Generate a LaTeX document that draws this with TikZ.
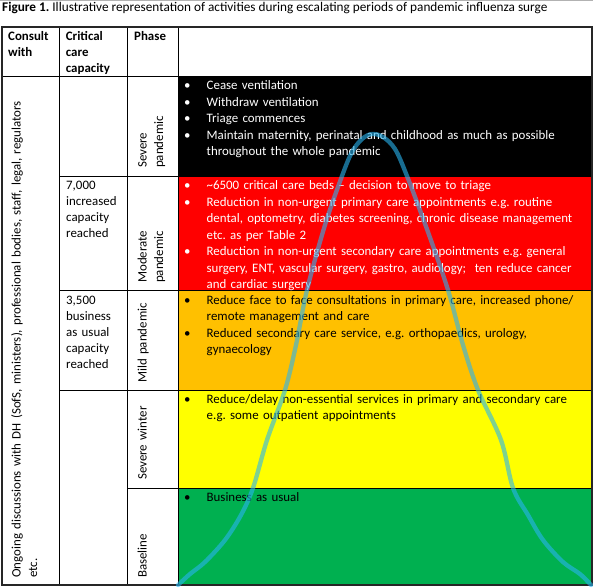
\documentclass[tikz,border=0pt]{standalone}
\usepackage{fontspec}
\setmainfont{Carlito}
\usetikzlibrary{calc}
\definecolor{surgered}{HTML}{FF0000}
\definecolor{surgeamber}{HTML}{FFC000}
\definecolor{surgeyellow}{HTML}{FFFF00}
\definecolor{surgegreen}{HTML}{00B050}
\definecolor{surgeline}{RGB}{40,180,240}
\frenchspacing
\newcommand{\actitem}[1]{\noindent\hangindent=22.5pt\hangafter=1\makebox[22.5pt][l]{\textbullet}#1\par}
\tikzset{
  tablecell/.style={
    rectangle,
    draw=black,
    line width=0.8pt,
    inner sep=0pt,
    outer sep=0pt,
    anchor=north west
  },
  celltext/.style={
    anchor=base west,
    inner sep=0pt,
    align=left,
    text width=#1,
    font=\fontsize{12.9}{16.5}\selectfont
  },
  celltext/.default=400pt,
  phaselabel/.style={
    celltext=110pt,
    rotate=90
  },
  surgecurve/.style={
    draw=surgeline,
    line width=4.3pt,
    opacity=0.6,
    line cap=round
  }
}
\begin{document}
\begin{tikzpicture}[x=1pt,y=-1pt]
  \useasboundingbox (0,0) rectangle (593,587);
  \draw[gray!60,line width=0.8pt] (0,0.5) -- (593,0.5);
  \node[anchor=base west,inner sep=0pt,font=\fontsize{13.25}{15}\selectfont] (title) at (2,11)
    {\textbf{Figure 1.} Illustrative representation of activities during escalating periods of pandemic influenza surge};

  % header row
  \node[tablecell,minimum width=57pt,minimum height=49pt] (hdconsult) at (2,27) {};
  \node[tablecell,minimum width=68pt,minimum height=49pt] (hdcapacity) at (59,27) {};
  \node[tablecell,minimum width=51pt,minimum height=49pt] (hdphase) at (127,27) {};
  \node[tablecell,minimum width=414pt,minimum height=49pt] (hdactivity) at (178,27) {};

  % activity rows
  \node[tablecell,fill=black,minimum width=414pt,minimum height=100pt] (actsevere) at (178,76) {};
  \node[tablecell,fill=surgered,minimum width=414pt,minimum height=114pt] (actmoderate) at (178,176) {};
  \node[tablecell,fill=surgeamber,minimum width=414pt,minimum height=100pt] (actmild) at (178,290) {};
  \node[tablecell,fill=surgeyellow,minimum width=414pt,minimum height=98pt] (actwinter) at (178,390) {};
  \node[tablecell,fill=surgegreen,minimum width=414pt,minimum height=97pt] (actbase) at (178,488) {};

  \node[tablecell,minimum width=51pt,minimum height=100pt] (phsevere) at (127,76) {};
  \node[tablecell,minimum width=51pt,minimum height=114pt] (phmoderate) at (127,176) {};
  \node[tablecell,minimum width=51pt,minimum height=100pt] (phmild) at (127,290) {};
  \node[tablecell,minimum width=51pt,minimum height=98pt] (phwinter) at (127,390) {};
  \node[tablecell,minimum width=51pt,minimum height=97pt] (phbase) at (127,488) {};

  \node[tablecell,minimum width=68pt,minimum height=100pt] (capsevere) at (59,76) {};
  \node[tablecell,minimum width=68pt,minimum height=114pt] (capmoderate) at (59,176) {};
  \node[tablecell,minimum width=68pt,minimum height=100pt] (capmild) at (59,290) {};
  \node[tablecell,minimum width=68pt,minimum height=195pt] (caplow) at (59,390) {};

  \node[tablecell,minimum width=57pt,minimum height=509pt] (consult) at (2,76) {};
  \draw[line width=1.2pt,black!85] (hdconsult.north west) rectangle (actbase.south east);

  % texts
  \node[celltext=50pt,font=\fontsize{12.9}{16.2}\selectfont\bfseries] (hdconsulttext)
    at ($(hdconsult.north west)+(6,13)$) {Consult\\with};
  \node[celltext=60pt,font=\fontsize{12.9}{16.2}\selectfont\bfseries] (hdcapacitytext)
    at ($(hdcapacity.north west)+(6.7,13)$) {Critical\\care\\capacity};
  \node[celltext=45pt,font=\fontsize{12.9}{16.2}\selectfont\bfseries] (hdphasetext)
    at ($(hdphase.north west)+(7,13)$) {Phase};

  \node[celltext=500pt,rotate=90] (consulttext) at ($(consult.south west)+(18.5,-7)$)
    {Ongoing discussions with DH (SofS, ministers), professional bodies, staff, legal, regulators\\etc.};

  \node[celltext=62pt,font=\fontsize{12.9}{16}\selectfont] (capmoderatetext)
    at ($(capmoderate.north west)+(7,13)$) {7,000\\increased\\capacity\\reached};
  \node[celltext=62pt,font=\fontsize{12.9}{16}\selectfont] (capmildtext)
    at ($(capmild.north west)+(7,14)$) {3,500\\business\\as usual\\capacity\\reached};

  \node[phaselabel] (phseveretext) at ($(phsevere.south west)+(19.5,-8)$) {Severe\\pandemic};
  \node[phaselabel] (phmoderatetext) at ($(phmoderate.south west)+(19.5,-7)$) {Moderate\\pandemic};
  \node[phaselabel] (phmildtext) at ($(phmild.south west)+(19.5,-7)$) {Mild pandemic};
  \node[phaselabel] (phwintertext) at ($(phwinter.south west)+(19.5,-8)$) {Severe winter};
  \node[phaselabel] (phbasetext) at ($(phbase.south west)+(19.5,-7)$) {Baseline};

  \node[celltext,text=white] (actseveretext) at ($(actsevere.north west)+(6,13.5)$) {%
    \actitem{Cease ventilation}
    \actitem{Withdraw ventilation}
    \actitem{Triage commences}
    \actitem{Maintain maternity, perinatal and childhood as much as possible\newline throughout the whole pandemic}};
  \node[celltext,text=white] (actmoderatetext) at ($(actmoderate.north west)+(6,13.5)$) {%
    \actitem{\textasciitilde6500 critical care beds -- decision to move to triage}
    \actitem{Reduction in non-urgent primary care appointments e.g. routine\newline dental, optometry, diabetes screening, chronic disease management\newline etc. as per Table 2}
    \actitem{Reduction in non-urgent secondary care appointments e.g. general\newline surgery, ENT, vascular surgery, gastro, audiology;\ \ ten reduce cancer\newline and cardiac surgery}};
  \node[celltext] (actmildtext) at ($(actmild.north west)+(6,14)$) {%
    \actitem{Reduce face to face consultations in primary care, increased phone/\newline remote management and care}
    \actitem{Reduced secondary care service, e.g. orthopaedics, urology,\newline gynaecology}};
  \node[celltext] (actwintertext) at ($(actwinter.north west)+(6,13)$) {%
    \actitem{Reduce/delay non-essential services in primary and secondary care\newline e.g. some outpatient appointments}};
  \node[celltext] (actbasetext) at ($(actbase.north west)+(6,13)$) {%
    \actitem{Business as usual}};

  % surge curve over the activity column
  \draw[surgecurve] plot[smooth,tension=0.55] coordinates {
    (178,585) (190,574) (205,562) (225,540) (241,515) (253,488) (267,440) (285,390)
    (296,345) (307,290) (325,225) (342,176) (352,152) (362,139) (372,134) (383,137)
    (395,149) (407,176) (428,232) (448,290) (463,345) (478,390) (501,440) (513,488)
    (528,515) (543,540) (563,562) (580,574) (591,585)};
\end{tikzpicture}
\end{document}
